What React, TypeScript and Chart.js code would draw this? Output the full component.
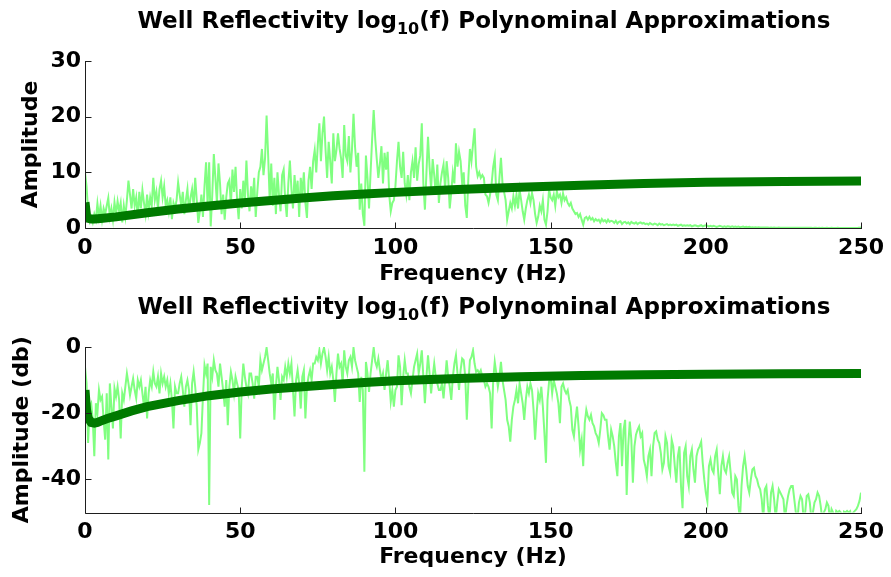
import React, { useEffect, useRef } from "react";
import { Chart, registerables } from "chart.js";

Chart.register(...registerables);

// ---------- data ----------
const FREQ_STEP = 0.5; // Hz between spectrum samples
const xTicks = [0, 50, 100, 150, 200, 250];
const ampTicks = [0, 10, 20, 30];
const dbTicks = [-40, -20, 0];

const amplitude = [
  10.0, 7.5, 3.0, 1.2, 2.0, 1.0, 2.5, 1.5, 4.4, 2.0, 4.0, 1.5, 3.5, 2.5, 4.0, 5.4, 2.0, 3.5, 1.5, 4.6,
  2.5, 4.8, 3.0, 4.5, 1.0, 4.0, 2.0, 5.0, 8.5, 6.0, 3.5, 7.0, 4.0, 5.5, 2.0, 6.5, 3.5, 6.8, 4.5, 2.5,
  6.0, 3.0, 5.5, 4.0, 9.0, 5.0, 6.5, 3.5, 7.0, 8.5, 5.5, 7.5, 4.0, 5.0, 3.0, 5.5, 1.6, 4.5, 3.5, 5.0,
  8.2, 6.0, 4.0, 6.5, 2.5, 5.0, 7.0, 3.0, 5.5, 7.0, 4.0, 9.0, 5.0, 0.9, 3.0, 6.0, 2.0, 7.5, 11.8, 4.0,
  11.8, 0.3, 6.0, 13.3, 9.0, 4.5, 11.6, 8.0, 2.5, 6.0, 1.5, 5.5, 8.0, 8.6, 4.0, 10.5, 6.5, 11.0, 5.0, 1.6,
  7.0, 3.5, 8.5, 5.0, 12.1, 6.0, 3.0, 7.5, 5.0, 9.0, 2.0, 6.5, 10.0, 11.0, 14.2, 9.5, 12.5, 20.2, 13.0, 5.0,
  11.6, 4.0, 9.0, 2.5, 10.0, 6.0, 3.0, 9.5, 10.5, 5.0, 2.0, 8.0, 12.1, 7.0, 3.5, 9.5, 5.5, 8.5, 2.0, 9.0,
  6.0, 10.0, 4.5, 1.8, 8.5, 11.0, 7.0, 12.0, 14.0, 10.0, 15.0, 18.8, 12.0, 17.0, 20.0, 14.0, 9.0, 15.5, 12.0, 8.0,
  17.0, 12.0, 14.0, 17.0, 14.3, 12.5, 9.0, 18.5, 13.0, 12.0, 16.5, 10.0, 14.0, 20.5, 14.5, 11.0, 13.5, 3.3, 8.0, 2.5,
  0.4, 13.0, 9.0, 3.5, 10.0, 16.0, 21.2, 16.0, 12.3, 9.0, 11.5, 14.7, 8.0, 13.5, 10.5, 13.7, 6.0, 3.0, 4.5, 5.0,
  7.5, 12.0, 15.5, 11.0, 9.0, 13.7, 8.0, 6.0, 9.5, 5.0, 10.0, 12.0, 9.0, 14.5, 8.5, 11.5, 13.0, 18.8, 8.0, 3.3,
  10.0, 16.4, 11.0, 7.0, 12.4, 9.5, 6.0, 11.4, 4.5, 8.0, 10.0, 11.4, 7.0, 12.0, 9.0, 3.5, 6.5, 10.0, 8.0, 15.2,
  11.0, 13.7, 12.0, 8.0, 10.0, 4.0, 1.8, 9.0, 14.2, 12.0, 15.0, 17.9, 11.0, 9.3, 10.0, 9.0, 9.5, 9.0, 6.0, 5.7,
  4.5, 6.0, 8.0, 11.0, 12.7, 6.0, 5.0, 9.0, 12.6, 8.0, 6.5, 5.0, 1.5, 3.0, 4.5, 3.5, 5.7, 4.0, 6.0, 3.5,
  6.9, 5.0, 3.0, 1.5, 3.5, 5.0, 6.0, 4.5, 6.3, 5.0, 2.5, 0.9, 2.0, 4.0, 3.0, 5.0, 1.5, 0.6, 3.0, 6.9,
  5.5, 5.0, 6.0, 4.0, 6.6, 5.5, 6.0, 4.5, 6.2, 5.0, 5.5, 4.5, 4.0, 4.5, 3.5, 3.0, 2.5, 2.7, 2.0, 2.5,
  1.5, 0.6, 1.8, 2.0, 1.5, 2.0, 1.5, 1.8, 1.2, 1.6, 1.3, 1.5, 1.0, 1.6, 1.2, 1.4, 1.0, 1.5, 1.1, 1.3,
  1.2, 0.9, 1.3, 0.8, 1.1, 1.2, 0.7, 1.0, 1.1, 0.8, 1.0, 0.7, 1.1, 0.9, 0.8, 1.0, 0.7, 0.9, 1.0, 0.8,
  0.9, 0.7, 0.8, 0.6, 0.9, 0.7, 0.6, 0.8, 0.7, 0.5, 0.8, 0.6, 0.7, 0.5, 0.6, 0.7, 0.5, 0.6, 0.5, 0.6,
  0.5, 0.6, 0.4, 0.5, 0.6, 0.4, 0.5, 0.4, 0.5, 0.4, 0.5, 0.3, 0.4, 0.5, 0.4, 0.3, 0.4, 0.5, 0.3, 0.4,
  0.5, 0.4, 0.3, 0.4, 0.3, 0.4, 0.3, 0.2, 0.3, 0.4, 0.3, 0.2, 0.3, 0.2, 0.3, 0.25, 0.2, 0.3, 0.2, 0.25,
  0.2, 0.25, 0.15, 0.2, 0.25, 0.15, 0.2, 0.15, 0.2, 0.1, 0.15, 0.1, 0.15, 0.1, 0.12, 0.1, 0.1, 0.08, 0.1, 0.08,
  0.08, 0.06, 0.08, 0.05, 0.07, 0.06, 0.05, 0.07, 0.05, 0.06, 0.05, 0.04, 0.06, 0.05, 0.04, 0.05, 0.04, 0.05, 0.04, 0.03,
  0.04, 0.03, 0.04, 0.03, 0.04, 0.03, 0.03, 0.04, 0.03, 0.02, 0.03, 0.03, 0.02, 0.03, 0.02, 0.03, 0.02, 0.02, 0.03, 0.02,
  0.02, 0.03, 0.02, 0.02, 0.02, 0.03, 0.02, 0.02, 0.01, 0.02, 0.02, 0.01, 0.02, 0.02, 0.01, 0.02, 0.01, 0.02, 0.03, 0.05,
  0.1,
];

const amplitudeDb = [
  -6, -11, -29, -18, -17, -22, -33, -17, -20, -13, -16, -15, -22, -28, -14, -34, -11, -18, -24.6, -12.5,
  -15, -12, -16, -27.6, -14, -16, -12, -8, -11, -14.6, -12, -9.5, -13, -15.5, -10, -12, -10, -14, -18, -12,
  -21.6, -14, -10, -12, -7.5, -11, -12, -9, -14, -8, -11, -9, -12, -10, -14, -11, -16, -24.6, -12, -14,
  -14, -11, -9, -13, -18, -12, -10, -13, -23.6, -11, -7.5, -12, -18, -31, -29, -26, -15, -5.5, -8, -5,
  -47.7, -6, -9, -4, -7, -8, -12, -5, -9, -13, -18, -10, -23.6, -12, -7.5, -10, -14, -9, -11, -13,
  -27.6, -12, -5, -9, -12, -14, -8, -8, -11, -15.6, -9, -9, -12, -4, -7, -5, -3, -0.2, -4, -8,
  -11, -8, -22, -12, -6, -10, -16, -9, -10, -6, -9, -5, -8, -5, -13, -21, -10, -7, -11, -18.6,
  -9, -7, -21.6, -12, -9, -7, -10, -5, -5, -3, -4, -1, -5, -2, -0.2, -3, -7, -3, -8, -6,
  -10, -16.6, -8, -2, -6, -5, -11, -1, -6, -8, -4, -3, -6, -0.2, -4, -6, -8, -16.6, -9, -13,
  -37.7, -4.5, -8, -13.6, -8, -4, -0.2, -4.5, -6, -3.5, -7, -10, -8, -13, -8, -4, -10, -16.5, -13, -18,
  -13, -12, -2.5, -6, -17.6, -9, -4, -8, -8, -12, -14, -10, -6, -4, -2, -8, -5, -1, -9, -17,
  -9, -2.5, -8, -14, -9, -5, -9, -11, -13, -13, -11, -15.5, -10, -4, -9, -12, -16, -9, -5, -2.5,
  -8, -13, -7, -3.5, -4, -9, -22, -11, -4, -3, -1, -5, -7.5, -7, -8, -7, -9, -10, -12, -11,
  -12, -14, -24.6, -10, -4.5, -8, -12, -9, -4.5, -10, -13, -16, -22, -24, -28.6, -22, -18, -16, -13, -17,
  -11, -14, -17, -22, -16, -12, -14, -11, -13, -19, -28, -20, -14, -16, -12, -18, -26, -35, -16, -10.5,
  -9, -14, -10, -12, -14, -17, -23, -12, -11, -13, -14, -13, -16, -18, -25, -27, -22, -18, -24, -31,
  -28, -36, -23, -19, -21, -22, -20.5, -23, -24, -26, -27, -29, -25, -20, -20.6, -22, -22, -27, -31, -25,
  -27, -30, -35, -39, -27, -23, -36, -25, -22, -44.7, -30, -22.5, -28, -41, -30, -26.5, -25, -24, -27, -26,
  -34, -36, -39, -33, -31, -39, -30, -26, -25.5, -28, -29, -32, -37, -35, -27, -29, -36, -38, -28, -30,
  -36, -41, -33, -30, -42, -48.7, -32, -30, -39, -42, -33, -31, -37, -41, -33, -31, -30, -28.6, -35, -40,
  -44, -46.7, -36, -34, -37, -38, -33, -31, -38, -44.5, -36, -33, -37, -38, -35, -33, -38, -44, -45, -39,
  -40, -48, -52, -42, -36, -33, -37, -42, -44, -40, -37, -36.5, -39, -40, -42, -43, -46, -52, -43, -42,
  -48, -52, -44, -42, -46, -52, -47, -43, -44, -45, -46, -52, -48, -45, -43, -42, -42, -46, -50, -52,
  -47, -45, -46, -52, -50, -45, -44.5, -47, -52, -50, -47, -46, -44, -45, -48, -52, -50, -49, -47, -48,
  -52, -49, -50, -52, -49.5, -50, -49.5, -50, -52, -49.7, -50, -49.5, -50, -49.6, -52, -50, -49.5, -49, -48, -46.5,
  -44,
];

// polynomial approximation curves (log10 f)
const fitAmpFreq = [0, 0.5, 1, 2, 3, 5, 10, 20, 30, 40, 50, 60, 70, 80, 90, 100, 120, 140, 150, 160, 180, 200, 225, 250];
const fitAmp = [4.6, 2.2, 1.75, 1.6, 1.62, 1.72, 2.0, 2.75, 3.4, 3.95, 4.5, 4.95, 5.4, 5.8, 6.1, 6.4, 6.9, 7.3, 7.5, 7.7, 8.0, 8.2, 8.35, 8.45];
const fitDbFreq = [0, 0.5, 1, 2, 3, 4, 5, 7, 10, 15, 20, 30, 40, 50, 60, 70, 80, 90, 100, 120, 140, 160, 180, 200, 225, 250];
const fitDb = [-13, -19, -21.5, -22.8, -23, -22.8, -22.4, -21.7, -20.8, -19.3, -18.0, -16.2, -14.7, -13.6, -12.7, -12.0, -11.3, -10.7, -10.2, -9.5, -9.0, -8.6, -8.4, -8.2, -8.1, -8.0];

const TITLE_MAIN = "Well Reflectivity log";
const TITLE_SUB = "10";
const TITLE_END = "(f) Polynominal Approximations";

// ---------- styling ----------
const FONT_FAMILY = "'DejaVu Sans', 'Liberation Sans', Arial, sans-serif";
const LIGHT = "rgb(128,255,128)";
const DARK = "rgb(0,122,0)";
const W = 891;

const axesPlugin = {
  id: "matlabAxes",
  afterDatasetsDraw(chart: any) {
    const { ctx, chartArea: a, scales } = chart;
    const x = scales.x;
    const y = scales.y;
    ctx.save();
    ctx.strokeStyle = "#1e1e1e";
    ctx.lineWidth = 1;
    ctx.beginPath();
    const lx = Math.round(a.left) + 0.5;
    const by = Math.round(a.bottom) + 0.5;
    ctx.moveTo(lx, Math.round(a.top));
    ctx.lineTo(lx, by);
    ctx.lineTo(Math.round(a.right) + 1, by);
    for (const t of x.ticks) {
      const px = Math.round(x.getPixelForValue(t.value)) + 0.5;
      ctx.moveTo(px, by);
      ctx.lineTo(px, by - 6);
    }
    for (const t of y.ticks) {
      const py = Math.round(y.getPixelForValue(t.value)) + 0.5;
      ctx.moveTo(lx, py);
      ctx.lineTo(lx + 6, py);
    }
    ctx.stroke();
    ctx.restore();
  },
};

function toPoints(values: number[]) {
  return values.map((v, i) => ({ x: i * FREQ_STEP, y: v }));
}
function pairPoints(xs: number[], ys: number[]) {
  return xs.map((f, i) => ({ x: f, y: ys[i] }));
}

type PanelProps = {
  height: number;
  spectrum: number[];
  fitX: number[];
  fitY: number[];
  yMin: number;
  yMax: number;
  yTicks: number[];
  yLabel: string;
  padTop: number;
  xScaleHeight: number;
  yTitlePad: number;
  xTitlePad: number;
};

function Panel(p: PanelProps) {
  const ref = useRef<HTMLCanvasElement | null>(null);
  useEffect(() => {
    if (!ref.current) return;
    const font = { family: FONT_FAMILY, size: 22, weight: "bold" as const };
    const chart = new Chart(ref.current, {
      type: "line",
      data: {
        datasets: [
          {
            data: pairPoints(p.fitX, p.fitY),
            borderColor: DARK,
            backgroundColor: DARK,
            borderWidth: 9,
            pointRadius: 0,
            tension: 0,
            clip: 0,
            borderCapStyle: "butt",
          },
          {
            data: toPoints(p.spectrum),
            borderColor: LIGHT,
            backgroundColor: LIGHT,
            borderWidth: 2,
            pointRadius: 0,
            tension: 0,
            clip: 0,
          },
        ],
      },
      options: {
        responsive: false,
        animation: false,
        devicePixelRatio: 1,
        layout: { padding: { left: 0, right: 27, top: p.padTop, bottom: 0 } },
        plugins: { legend: { display: false }, tooltip: { enabled: false }, title: { display: false } },
        scales: {
          x: {
            type: "linear",
            min: 0,
            max: 250,
            afterBuildTicks: (s: any) => {
              s.ticks = xTicks.map((v) => ({ value: v }));
            },
            afterFit: (s: any) => {
              s.height = p.xScaleHeight;
            },
            grid: { display: false, drawTicks: false },
            border: { display: false },
            ticks: { font, color: "#000", padding: 7, maxRotation: 0, autoSkip: false },
            title: { display: true, text: "Frequency (Hz)", font, color: "#000", padding: { top: 0, bottom: p.xTitlePad } },
          },
          y: {
            type: "linear",
            min: p.yMin,
            max: p.yMax,
            afterBuildTicks: (s: any) => {
              s.ticks = p.yTicks.map((v) => ({ value: v }));
            },
            afterFit: (s: any) => {
              s.width = 85;
            },
            grid: { display: false, drawTicks: false },
            border: { display: false },
            ticks: { font, color: "#000", padding: 4, autoSkip: false },
            title: { display: true, text: p.yLabel, font, color: "#000", padding: { top: p.yTitlePad, bottom: 0 } },
          },
        },
      },
      plugins: [axesPlugin],
    } as any);
    return () => chart.destroy();
  }, []);
  return <canvas ref={ref} width={W} height={p.height} style={{ display: "block", width: W, height: p.height }} />;
}

function Title({ top }: { top: number }) {
  return (
    <div
      style={{
        position: "absolute",
        left: 484,
        top,
        transform: "translateX(-50%)",
        whiteSpace: "nowrap",
        fontFamily: FONT_FAMILY,
        fontWeight: "bold",
        fontSize: 23,
        lineHeight: "23px",
        color: "#000",
      }}
    >
      {TITLE_MAIN}
      <span style={{ fontSize: 16, position: "relative", top: 6 }}>{TITLE_SUB}</span>
      {TITLE_END}
    </div>
  );
}

export default function App() {
  return (
    <div style={{ position: "absolute", left: 0, top: 0, width: W, height: 577, background: "#fff", overflow: "hidden" }}>
      <div style={{ position: "absolute", left: 0, top: 0 }}>
        <Panel
          height={290}
          spectrum={amplitude}
          fitX={fitAmpFreq}
          fitY={fitAmp}
          yMin={0}
          yMax={30}
          yTicks={ampTicks}
          yLabel="Amplitude"
          padTop={61}
          xScaleHeight={62}
          yTitlePad={18}
          xTitlePad={3}
        />
      </div>
      <div style={{ position: "absolute", left: 0, top: 290 }}>
        <Panel
          height={287}
          spectrum={amplitudeDb}
          fitX={fitDbFreq}
          fitY={fitDb}
          yMin={-50}
          yMax={0}
          yTicks={dbTicks}
          yLabel="Amplitude (db)"
          padTop={57}
          xScaleHeight={64.5}
          yTitlePad={9}
          xTitlePad={7}
        />
      </div>
      <Title top={9} />
      <Title top={295} />
    </div>
  );
}
